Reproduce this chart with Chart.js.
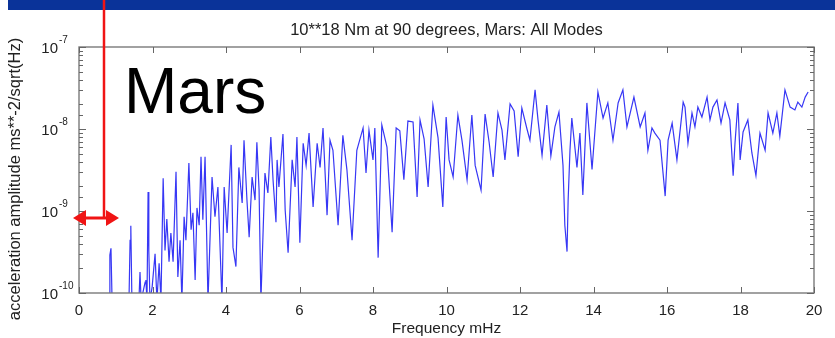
<!DOCTYPE html>
<html><head><meta charset="utf-8">
<script src="https://cdn.jsdelivr.net/npm/chart.js@4/dist/chart.umd.min.js"></script>
<style>html,body{margin:0;padding:0;background:#fff;overflow:hidden}canvas{display:block}</style>
</head><body>
<canvas id="c" width="835" height="338"></canvas>
<script>
// Frequency (mHz)
const freqMHz = [
  0.00,0.57,0.82,0.84,0.87,0.90,1.36,1.39,1.41,1.44,
  1.63,1.66,1.69,1.80,1.82,1.85,1.88,1.90,1.93,1.99,
  2.07,2.12,2.18,2.23,2.29,2.34,2.39,2.45,2.50,2.56,
  2.64,2.69,2.75,2.80,2.86,2.91,2.99,3.05,3.10,3.16,
  3.21,3.27,3.32,3.37,3.43,3.51,3.62,3.70,3.78,3.89,
  3.95,4.03,4.14,4.19,4.27,4.35,4.44,4.49,4.57,4.63,
  4.71,4.79,4.84,4.90,4.95,5.06,5.14,5.22,5.28,5.36,
  5.39,5.44,5.55,5.61,5.69,5.80,5.88,5.93,6.01,6.10,
  6.18,6.26,6.37,6.48,6.56,6.64,6.75,6.83,6.91,7.05,
  7.18,7.29,7.43,7.56,7.73,7.81,7.89,8.00,8.05,8.14,
  8.24,8.38,8.52,8.63,8.73,8.84,8.95,9.09,9.20,9.28,
  9.39,9.50,9.63,9.77,9.90,9.99,10.07,10.18,10.31,10.42,
  10.56,10.69,10.78,10.94,11.05,11.16,11.27,11.40,11.51,11.59,
  11.73,11.84,11.95,12.05,12.19,12.27,12.41,12.49,12.60,12.73,
  12.84,12.95,13.06,13.17,13.22,13.28,13.31,13.36,13.41,13.55,
  13.63,13.71,13.82,13.96,14.12,14.26,14.39,14.53,14.67,14.80,
  14.91,15.10,15.27,15.40,15.48,15.59,15.67,15.81,15.95,16.03,
  16.14,16.27,16.44,16.49,16.57,16.68,16.76,16.84,16.95,17.09,
  17.17,17.25,17.36,17.47,17.58,17.71,17.80,17.85,17.93,17.99,
  18.07,18.20,18.31,18.42,18.53,18.67,18.75,18.88,18.99,19.07,
  19.21,19.35,19.48,19.56,19.67,19.76,19.84
];
// Acceleration amplitude (m s^-2 / sqrt(Hz))
const amplitude = [
  8e-11,8e-11,8e-11,2.9e-10,3.5e-10,8e-11,8e-11,4.4e-10,6.6e-10,8e-11,
  8e-11,1.8e-10,8e-11,1.36e-10,1.44e-10,8e-11,1.7e-9,3.3e-10,8e-11,1.18e-10,
  3.0e-10,8e-11,2.3e-10,8e-11,2.5e-9,3.3e-10,8.0e-10,2.4e-10,5.4e-10,2.4e-10,
  3.0e-9,1.57e-10,4.4e-10,8e-11,8.5e-10,4.4e-10,3.85e-9,5.9e-10,9.5e-10,1.44e-10,
  1.09e-9,6.7e-10,4.6e-9,7.8e-10,4.6e-9,8e-11,2.6e-9,8.5e-10,1.96e-9,8e-11,
  1.96e-9,5.4e-10,6.4e-9,3.6e-10,2.1e-10,3.4e-9,1.25e-9,7.3e-9,1.36e-9,4.8e-10,
  2.6e-9,1.36e-9,6.9e-9,1.8e-9,8e-11,2.9e-9,1.66e-9,8.0e-9,2.4e-9,7.3e-10,
  4.2e-9,1.96e-9,8.7e-9,1.03e-9,3.1e-10,4.2e-9,1.96e-9,8.0e-9,4.1e-10,6.7e-9,
  3.6e-9,8.9e-9,1.12e-9,6.7e-9,3.4e-9,1.03e-8,8.9e-10,7.3e-9,5.5e-9,6.7e-10,
  8.4e-9,3.2e-9,4.4e-10,5.5e-9,1.03e-8,2.9e-9,9.7e-9,4.2e-9,1.03e-8,2.7e-10,
  1.12e-8,6.0e-9,5.5e-10,1.03e-8,9.5e-9,2.4e-9,1.25e-8,1.22e-8,1.48e-9,1.29e-8,
  7.6e-9,1.96e-9,1.96e-8,7.8e-9,1.12e-9,1.40e-8,4.2e-9,2.6e-9,1.48e-8,7.3e-9,
  2.4e-9,1.48e-8,3.6e-9,1.8e-9,1.52e-8,6.9e-9,2.6e-9,1.57e-8,9.7e-9,4.2e-9,
  2.02e-8,1.66e-8,4.6e-9,1.80e-8,1.0e-8,7.3e-9,3.0e-8,1.29e-8,4.8e-9,1.96e-8,
  4.7e-9,1.06e-8,1.61e-8,3.6e-9,6.7e-10,3.2e-10,1.36e-9,5.5e-9,1.36e-8,3.4e-9,
  8.9e-9,1.57e-9,2.08e-8,3.2e-9,2.83e-8,1.36e-8,2.08e-8,7.3e-9,2.08e-8,3.0e-8,
  1.06e-8,2.45e-8,1.06e-8,1.57e-8,5.5e-9,1.03e-8,8.9e-9,7.3e-9,1.52e-9,7.3e-9,
  1.18e-8,4.2e-9,2.13e-8,1.85e-8,6.7e-9,1.57e-8,1.06e-8,1.85e-8,1.40e-8,2.45e-8,
  1.29e-8,1.85e-8,2.26e-8,1.18e-8,2.08e-8,1.29e-8,2.7e-9,6.7e-9,2.08e-8,4.2e-9,
  9.2e-9,1.29e-8,5.1e-9,2.7e-9,8.9e-9,5.5e-9,1.57e-8,8.9e-9,1.57e-8,8.2e-9,
  3.0e-8,1.85e-8,1.71e-8,2.13e-8,1.85e-8,2.45e-8,2.83e-8
];
const xRange = [0, 20];
const xStep = 2;
const yRange = [1e-10, 1e-7];
const chartTitle = '10**18 Nm at 90 degrees, Mars: All Modes';
const xTitle = 'Frequency mHz';
const yTitle = 'acceleration amplitude ms**-2/sqrt(Hz)';
const overlayLabel = 'Mars';

function isDecade(v){ const e = Math.log10(v); return Math.abs(e - Math.round(e)) < 1e-6; }

const FONT = "'Liberation Sans', Arial, Helvetica, sans-serif";
Chart.defaults.font.family = FONT;
Chart.defaults.color = '#222';

const decor = {
  id: 'decor',
  beforeDraw(chart){
    const ctx = chart.ctx; ctx.save(); ctx.fillStyle = '#fff'; ctx.fillRect(0,0,chart.width,chart.height); ctx.restore();
  },
  afterDatasetsDraw(chart){
    const {ctx, chartArea:a, scales} = chart;
    ctx.save();
    ctx.strokeStyle = '#7a7a7a';
    ctx.lineWidth = 1.4;
    ctx.strokeRect(a.left, a.top, a.right - a.left, a.bottom - a.top);
    ctx.lineWidth = 1;
    ctx.strokeStyle = '#666';
    ctx.beginPath();
    scales.y.ticks.forEach(t => {
      const py = Math.round(scales.y.getPixelForValue(t.value)) + 0.5;
      const len = isDecade(t.value) ? 7 : 4;
      ctx.moveTo(a.left, py); ctx.lineTo(a.left + len, py);
      ctx.moveTo(a.right, py); ctx.lineTo(a.right - len, py);
    });
    scales.x.ticks.forEach(t => {
      const px = Math.round(scales.x.getPixelForValue(t.value)) + 0.5;
      ctx.moveTo(px, a.bottom); ctx.lineTo(px, a.bottom - 6);
      ctx.moveTo(px, a.top); ctx.lineTo(px, a.top + 6);
    });
    ctx.stroke();

    // y decade labels: "10" with superscript exponent
    ctx.fillStyle = '#222';
    scales.y.ticks.forEach(t => {
      if (!isDecade(t.value)) return;
      const py = scales.y.getPixelForValue(t.value);
      const e = String(Math.round(Math.log10(t.value)));
      ctx.font = "15px " + FONT;
      ctx.textAlign = 'right'; ctx.textBaseline = 'middle';
      ctx.fillText('10', 58, py + 2);
      ctx.font = "10px " + FONT;
      ctx.textAlign = 'left'; ctx.textBaseline = 'middle';
      ctx.fillText(e, 59, py - 7);
    });

    // chart title centred over the plot area
    ctx.font = "16.5px " + FONT;
    ctx.textAlign = 'center'; ctx.textBaseline = 'middle';
    ctx.fillText(chartTitle, (a.left + a.right) / 2, 30);

    // y axis title
    ctx.translate(15, 179);
    ctx.rotate(-Math.PI / 2);
    ctx.font = "16.5px " + FONT;
    ctx.fillText(yTitle, 0, 0);
    ctx.restore();
  },
  afterDraw(chart){
    const ctx = chart.ctx;
    ctx.save();
    ctx.fillStyle = '#0a3399';
    ctx.fillRect(8, 0, chart.width - 8, 10);
    ctx.fillStyle = '#000';
    ctx.font = "64px " + FONT;
    ctx.textBaseline = 'alphabetic';
    ctx.textAlign = 'left';
    ctx.fillText(overlayLabel, 124, 113);
    ctx.strokeStyle = '#f01414';
    ctx.fillStyle = '#f01414';
    ctx.lineWidth = 2.5;
    ctx.beginPath(); ctx.moveTo(104, 0); ctx.lineTo(104, 218); ctx.stroke();
    ctx.lineWidth = 3;
    ctx.beginPath(); ctx.moveTo(84, 218); ctx.lineTo(108, 218); ctx.stroke();
    ctx.beginPath(); ctx.moveTo(73, 218); ctx.lineTo(86, 210); ctx.lineTo(86, 226); ctx.closePath(); ctx.fill();
    ctx.beginPath(); ctx.moveTo(119, 218); ctx.lineTo(106, 210); ctx.lineTo(106, 226); ctx.closePath(); ctx.fill();
    ctx.restore();
  }
};

new Chart(document.getElementById('c'), {
  type: 'line',
  data: {
    datasets: [{
      data: freqMHz.map((f, i) => ({x: f, y: amplitude[i]})),
      borderColor: 'rgb(55,55,245)',
      borderWidth: 1.2,
      pointRadius: 0,
      tension: 0,
      fill: false,
      clip: 0
    }]
  },
  options: {
    responsive: false,
    animation: false,
    devicePixelRatio: 1,
    layout: {padding: {left: 0, right: 21, top: 47, bottom: 0}},
    plugins: {
      legend: {display: false},
      tooltip: {enabled: false},
      title: {display: false}
    },
    scales: {
      x: {
        type: 'linear', min: xRange[0], max: xRange[1],
        grid: {display: false}, border: {display: false},
        ticks: {stepSize: xStep, padding: 1, color: '#222', font: {size: 15}, maxRotation: 0},
        title: {display: true, text: xTitle, color: '#222', font: {size: 15.5}, padding: {top: 0, bottom: 0}},
        afterFit(s){ s.height = 45; }
      },
      y: {
        type: 'logarithmic', min: yRange[0], max: yRange[1],
        grid: {display: false}, border: {display: false},
        ticks: {display: false, autoSkip: false},
        afterFit(s){ s.width = 79; }
      }
    }
  },
  plugins: [decor]
});
</script>
</body></html>
